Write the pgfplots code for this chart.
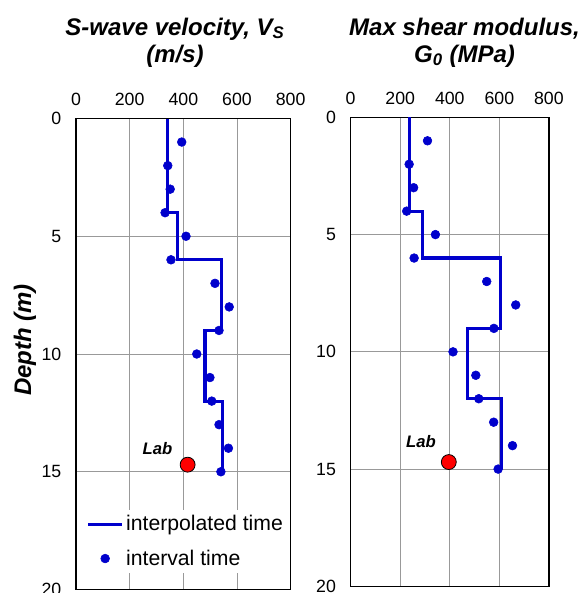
\documentclass[border=0pt]{standalone}
\usepackage{fontspec}
\setmainfont{Liberation Sans}
\usepackage{pgfplots}
\pgfplotsset{compat=1.18}
\definecolor{vblue}{RGB}{0,0,204}

\pgfplotsset{
  profile/.style={
    scale only axis, anchor=north west,
    y dir=reverse, ymin=0, ymax=20, ytick={0,5,10,15,20},
    xmin=0, xmax=800, xtick={0,200,400,600,800},
    xticklabel pos=right,
    major tick length=0pt,
    grid=major, major grid style={black!40, line width=0.6pt},
    axis line style={black, line width=1.2pt},
    tick label style={font=\fontsize{13.3}{15}\selectfont},
    xticklabel style={yshift=6pt},
    yticklabel style={xshift=-7.5pt},
    /pgf/number format/assume math mode=true,
    legend image code/.code={\draw[mark repeat=2,mark phase=2,##1] plot coordinates {(0cm,0cm)(0.44cm,0cm)(0.88cm,0cm)};},
  },
  steps/.style={vblue, line width=2.4pt, mark=none},
  dots/.style={only marks, mark=*, mark size=3.3pt, color=vblue},
  labpt/.style={only marks, mark=*, mark size=5.6pt, mark options={fill=red, draw=black, line width=0.6pt}},
}
\newcommand{\ttl}{\fontsize{18}{20}\selectfont\bfseries\itshape}

\begin{document}
\begin{tikzpicture}
% S-wave velocity
\begin{axis}[profile, at={(57pt,-88.875pt)}, width=161pt, height=353.25pt,
  legend style={at={(0.037,0.169)}, anchor=north west, draw=none, fill=white,
    font=\fontsize{15.9}{18}\selectfont, row sep=8.75pt, inner sep=2pt,
    cells={anchor=west}}]
\addplot[steps] coordinates {
  (342,0)(342,4)(378,4)(378,6)(541,6)(541,9)(481,9)(481,12)(545,12)(545,15)};
\addlegendentry{interpolated time}
\addplot[dots] coordinates {
  (394,1)(342,2)(351,3)(332,4)(410,5)(354,6)(518,7)(571,8)(533,9)(450,10)
  (499,11)(506,12)(533,13)(568,14)(540,15)};
\addlegendentry{interval time}
\addplot[labpt, forget plot] coordinates {(416,14.7)};
\node[anchor=base east, font=\fontsize{12.5}{14}\selectfont\bfseries\itshape,
  xshift=-8pt, yshift=7.3pt] at (axis cs:416,14.7) {Lab};
\end{axis}
% Max shear modulus
\begin{axis}[profile, at={(263pt,-88pt)}, width=148.7pt, height=351.75pt]
\addplot[steps] coordinates {
  (236,0)(236,4)(290,4)(290,6)(603,6)(603,9)(471,9)(471,12)(608,12)(608,15)};
\addplot[dots] coordinates {
  (310,1)(236,2)(254,3)(226,4)(342,5)(256,6)(549,7)(666,8)(578,9)(413,10)
  (505,11)(517,12)(577,13)(653,14)(595,15)};
\addplot[labpt] coordinates {(396,14.7)};
\node[anchor=base east, font=\fontsize{12.5}{14}\selectfont\bfseries\itshape,
  xshift=-6.2pt, yshift=11.2pt] at (axis cs:396,14.7) {Lab};
\end{axis}
% titles
\node[anchor=base, font=\ttl] at (131.25pt,-26.25pt) {S-wave velocity, V\textsubscript{S}};
\node[anchor=base, font=\ttl] at (131.25pt,-46.5pt) {(m/s)};
\node[anchor=base, font=\ttl] at (348.4pt,-26.25pt) {Max shear modulus,};
\node[anchor=base, font=\ttl] at (348.4pt,-46.5pt) {G\textsubscript{0} (MPa)};
\node[rotate=90, font=\ttl] at (18.75pt,-255pt) {Depth (m)};
\pgfresetboundingbox
\path[use as bounding box] (0,0) rectangle (435.75pt,-444.75pt);
\end{tikzpicture}
\end{document}
